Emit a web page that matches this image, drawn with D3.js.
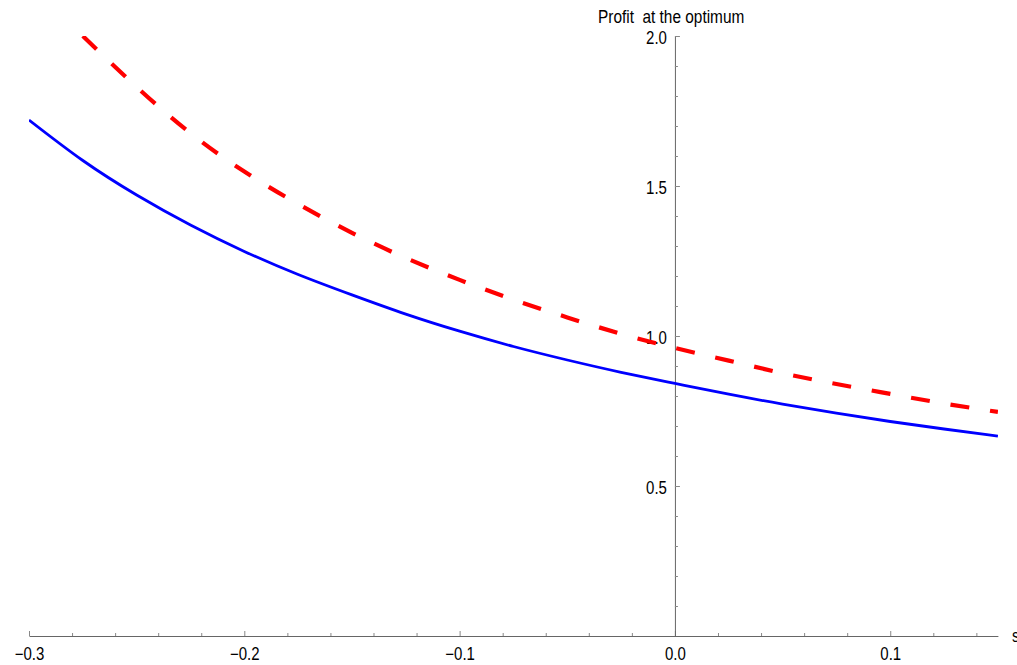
<!DOCTYPE html>
<html>
<head>
<meta charset="utf-8">
<script src="https://cdn.jsdelivr.net/npm/d3@7"></script>
<style>
  html, body { margin: 0; padding: 0; background: #fff; }
  svg { display: block; }
  text { font-family: "Liberation Sans", Arial, sans-serif; fill: #000; }
</style>
</head>
<body>
<svg id="chart" width="1017" height="665"></svg>
<script>
// Profit at the optimum as a function of s
const sValues = [-0.3, -0.275, -0.25, -0.225, -0.2, -0.175, -0.15, -0.125, -0.1, -0.075,
                 -0.05, -0.025, 0, 0.025, 0.05, 0.075, 0.1, 0.125, 0.15];
const profitSolid = [1.72, 1.585, 1.47, 1.37, 1.282, 1.205, 1.137, 1.073, 1.016, 0.965,
                     0.92, 0.879, 0.842, 0.806, 0.773, 0.743, 0.715, 0.69, 0.666];
// dashed series enters the frame at s = -0.275
const sDashed = sValues.slice(1);
const profitDashed = [2.0, 1.83, 1.676, 1.548, 1.44, 1.344, 1.26, 1.187, 1.121,
                      1.062, 1.007, 0.96, 0.918, 0.876, 0.84, 0.807, 0.775, 0.747];

const xMajorTicks = [-0.3, -0.2, -0.1, 0.0, 0.1];
const xMinorTicks = [-0.28, -0.26, -0.24, -0.22, -0.18, -0.16, -0.14, -0.12, -0.08, -0.06,
                     -0.04, -0.02, 0.02, 0.04, 0.06, 0.08, 0.12, 0.14];
const yMajorTicks = [0.5, 1.0, 1.5, 2.0];
const yMinorTicks = [0.1, 0.2, 0.3, 0.4, 0.6, 0.7, 0.8, 0.9, 1.1, 1.2, 1.3, 1.4, 1.6, 1.7, 1.8, 1.9];

const yAxisTitle = "Profit\u00a0 at the optimum";
const xAxisTitle = "s";

const svg = d3.select("#chart");
const stretch = 1.17; // glyphs are drawn a little taller than wide

const x = d3.scaleLinear().domain([-0.3, 0.15]).range([29, 997.9]);
const y = d3.scaleLinear().domain([0, 2]).range([636, 36]);
const fmt = d3.format(".1f");

svg.append("defs").append("clipPath").attr("id", "plot-clip")
  .append("rect")
  .attr("x", x(-0.3)).attr("y", y(2))
  .attr("width", x(0.15) - x(-0.3)).attr("height", y(0) - y(2));

// x axis (ticks point up, labels below)
const gx = svg.append("g").attr("transform", `translate(0,${y(0)})`);
gx.call(d3.axisBottom(x).tickValues(xMajorTicks).tickFormat(fmt)
  .tickSizeInner(-5).tickSizeOuter(0));
const gxMinor = svg.append("g").attr("transform", `translate(0,${y(0)})`);
gxMinor.call(d3.axisBottom(x).tickValues(xMinorTicks).tickFormat("")
  .tickSizeInner(-3).tickSizeOuter(0));
gxMinor.select(".domain").remove();

// y axis at s = 0 (ticks point right, labels left)
const gy = svg.append("g").attr("transform", `translate(${x(0)},0)`);
gy.call(d3.axisLeft(y).tickValues(yMajorTicks).tickFormat(fmt)
  .tickSizeInner(-5).tickSizeOuter(0));
const gyMinor = svg.append("g").attr("transform", `translate(${x(0)},0)`);
gyMinor.call(d3.axisLeft(y).tickValues(yMinorTicks).tickFormat("")
  .tickSizeInner(-3).tickSizeOuter(0));
gyMinor.select(".domain").remove();

svg.selectAll(".domain").attr("stroke", "#666").attr("stroke-width", 1);
svg.selectAll(".tick line").attr("stroke", "#888").attr("stroke-width", 1);
svg.selectAll(".tick text")
  .attr("font-family", "Liberation Sans, Arial, sans-serif")
  .attr("font-size", 15).attr("fill", "#000");

// place tick labels on their baselines with the taller glyph shape
gx.selectAll(".tick text")
  .attr("x", 0).attr("y", 0).attr("dy", null)
  .attr("transform", `translate(0,24) scale(1,${stretch})`);
gy.selectAll(".tick text")
  .attr("x", 0).attr("y", 0).attr("dy", null)
  .attr("transform", `translate(-8,7) scale(1,${stretch})`);

// axis titles
svg.append("text")
  .attr("transform", `translate(598,22.7) scale(1,${stretch})`)
  .attr("font-size", 15.4).text(yAxisTitle);
svg.append("text")
  .attr("transform", `translate(1012,642) scale(1,${stretch})`)
  .attr("font-size", 15).text(xAxisTitle);

// curves
const line = d3.line()
  .x(d => x(d[0])).y(d => y(d[1]))
  .curve(d3.curveNatural);

const plot = svg.append("g").attr("clip-path", "url(#plot-clip)");

plot.append("path")
  .datum(sValues.map((s, i) => [s, profitSolid[i]]))
  .attr("fill", "none").attr("stroke", "#0000ff").attr("stroke-width", 2.8)
  .attr("d", line);

plot.append("path")
  .datum(sDashed.map((s, i) => [s, profitDashed[i]]))
  .attr("fill", "none").attr("stroke", "#ff0000").attr("stroke-width", 4.2)
  .attr("stroke-dasharray", "19,21")
  .attr("d", line);
</script>
</body>
</html>
